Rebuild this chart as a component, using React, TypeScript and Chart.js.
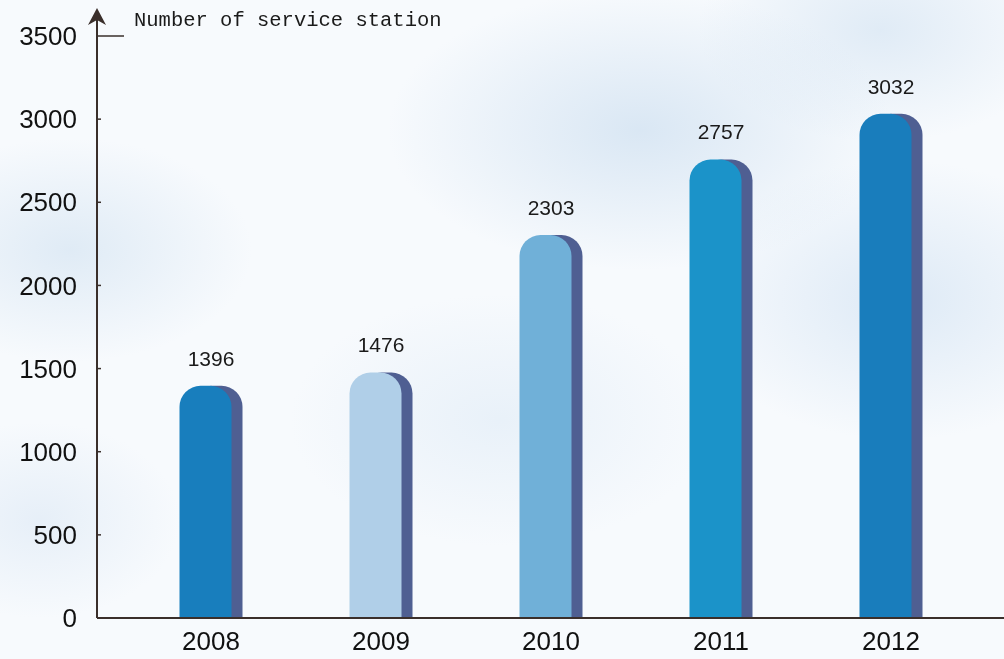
import React, { useEffect, useRef } from "react";
import { Chart, registerables } from "chart.js";

Chart.register(...registerables);

const years: string[] = ["2008", "2009", "2010", "2011", "2012"];
const stations: number[] = [1396, 1476, 2303, 2757, 3032];
const barColors: string[] = ["#187ebd", "#b0cfe8", "#70b0d8", "#1b93c9", "#197dbc"];
const shadowColor = "#4f5f92";
const yMin = 0;
const yMax = 3500;
const yStep = 500;
const axisTitle = "Number of service station";

const overlayPlugin = {
  id: "overlay",
  afterDatasetsDraw(chart: any) {
    const ctx = chart.ctx as CanvasRenderingContext2D;
    const xs = chart.scales.x;
    const ys = chart.scales.y;
    const axisX = chart.chartArea.left - 29;
    const base = ys.getPixelForValue(0);
    const topY = ys.getPixelForValue(yMax);
    ctx.save();
    ctx.strokeStyle = "#3a2f2b";
    ctx.fillStyle = "#3a2f2b";
    ctx.lineWidth = 2;
    ctx.beginPath();
    ctx.moveTo(axisX, base);
    ctx.lineTo(chart.width, base);
    ctx.moveTo(axisX, base);
    ctx.lineTo(axisX, 18);
    ctx.stroke();
    // small ticks
    ctx.lineWidth = 1.5;
    for (let v = yStep; v < yMax; v += yStep) {
      const py = ys.getPixelForValue(v);
      ctx.beginPath();
      ctx.moveTo(axisX, py);
      ctx.lineTo(axisX + 4, py);
      ctx.stroke();
    }
    ctx.beginPath();
    ctx.moveTo(axisX, topY);
    ctx.lineTo(axisX + 27, topY);
    ctx.stroke();
    // arrow head
    ctx.beginPath();
    ctx.moveTo(axisX, 8);
    ctx.lineTo(axisX - 9, 25);
    ctx.lineTo(axisX, 20);
    ctx.lineTo(axisX + 9, 25);
    ctx.closePath();
    ctx.fill();
    // axis title
    ctx.fillStyle = "#1a1a1a";
    ctx.font = "20.5px 'Liberation Mono', 'DejaVu Sans Mono', monospace";
    ctx.textAlign = "left";
    ctx.textBaseline = "middle";
    ctx.fillText(axisTitle, 134, 21);
    // value labels
    const meta = chart.getDatasetMeta(0);
    ctx.font = "21px 'Liberation Sans', Arial, sans-serif";
    ctx.textAlign = "center";
    ctx.textBaseline = "middle";
    meta.data.forEach((bar: any, i: number) => {
      const cx = xs.getPixelForValue(i);
      ctx.fillText(String(stations[i]), cx, bar.y - 26);
    });
    ctx.restore();
  },
};

export default function App() {
  const canvasRef = useRef<HTMLCanvasElement | null>(null);

  useEffect(() => {
    document.body.style.margin = "0";
    const canvas = canvasRef.current;
    if (!canvas) return;
    const chart = new Chart(canvas, {
      type: "bar",
      data: {
        labels: years,
        datasets: [
          {
            label: "Stations",
            data: stations,
            backgroundColor: barColors,
            borderWidth: 0,
            borderRadius: { topLeft: 21, topRight: 21, bottomLeft: 0, bottomRight: 0 },
            borderSkipped: false,
            categoryPercentage: 22 / 170,
            barPercentage: 52 / 11,
          },
          {
            label: "Shadow",
            data: stations,
            backgroundColor: shadowColor,
            borderWidth: 0,
            borderRadius: { topLeft: 21, topRight: 21, bottomLeft: 0, bottomRight: 0 },
            borderSkipped: false,
            categoryPercentage: 22 / 170,
            barPercentage: 52 / 11,
          },
        ],
      },
      options: {
        animation: false,
        responsive: false,
        maintainAspectRatio: false,
        layout: { padding: { left: 0, right: 28, top: 36, bottom: 0 } },
        plugins: {
          legend: { display: false },
          tooltip: { enabled: false },
          title: { display: false },
        },
        scales: {
          x: {
            grid: { display: false, drawTicks: false },
            border: { display: false },
            ticks: {
              color: "#111111",
              font: { family: "'Liberation Sans', Arial, sans-serif", size: 26 },
              padding: 9,
              maxRotation: 0,
            },
            afterFit: (scale: any) => {
              scale.height = 41;
            },
          },
          y: {
            min: yMin,
            max: yMax,
            grid: { display: false, drawTicks: false },
            border: { display: false },
            ticks: {
              stepSize: yStep,
              color: "#111111",
              font: { family: "'Liberation Sans', Arial, sans-serif", size: 26 },
              padding: 49,
              labelOffset: 2,
              callback: (v: any) => String(v),
            },
            afterFit: (scale: any) => {
              scale.width = 126;
              scale.paddingTop = 0;
              scale.paddingBottom = 0;
            },
          },
        },
      },
      plugins: [overlayPlugin],
    });
    return () => chart.destroy();
  }, []);

  const bg =
    "radial-gradient(ellipse 260px 160px at 70px 250px, rgba(200,220,238,0.5), rgba(200,220,238,0) 70%)," +
    "radial-gradient(ellipse 200px 140px at 40px 520px, rgba(205,222,240,0.4), rgba(205,222,240,0) 70%)," +
    "radial-gradient(ellipse 360px 200px at 640px 130px, rgba(205,223,240,0.7), rgba(205,223,240,0) 70%)," +
    "radial-gradient(ellipse 300px 200px at 900px 300px, rgba(208,225,242,0.65), rgba(208,225,242,0) 70%)," +
    "radial-gradient(ellipse 260px 160px at 880px 30px, rgba(205,223,240,0.55), rgba(205,223,240,0) 70%)," +
    "radial-gradient(ellipse 300px 180px at 500px 420px, rgba(215,230,244,0.45), rgba(215,230,244,0) 70%)," +
    "#f7fafd";

  return (
    <div style={{ position: "absolute", left: 0, top: 0, width: 1004, height: 659, background: bg }}>
      <canvas ref={canvasRef} width={1004} height={659} style={{ display: "block", width: 1004, height: 659 }} />
    </div>
  );
}
